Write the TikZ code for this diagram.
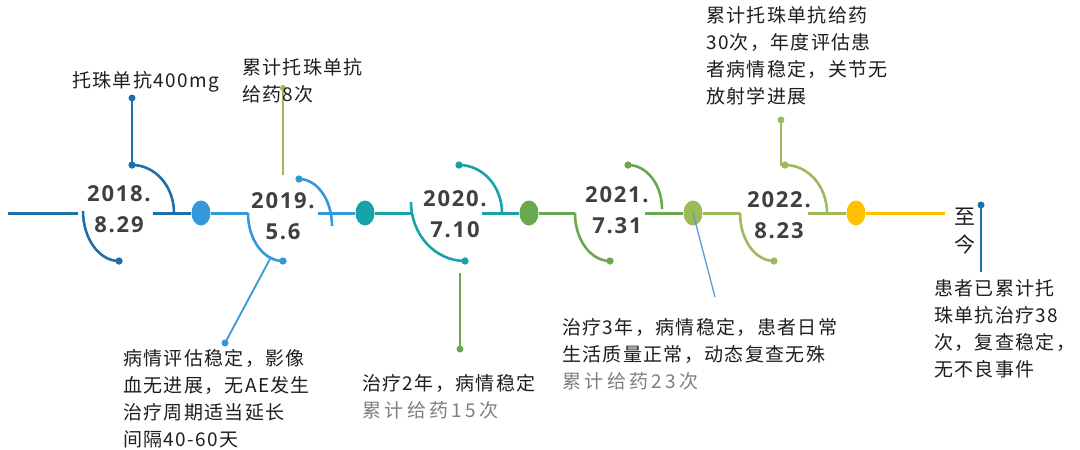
\documentclass[tikz,border=0pt]{standalone}
\usepackage{fontspec}
\setmainfont{Noto Sans CJK SC}
\newfontfamily\cjk[LetterSpace=7]{Noto Sans CJK SC}
\newfontfamily\cjkwide[LetterSpace=18]{Noto Sans CJK SC}
\newfontfamily\datefont[LetterSpace=8]{Open Sans}
\usetikzlibrary{shapes.geometric}
\definecolor{cA}{HTML}{1F6FAA}
\definecolor{cB}{HTML}{3498DB}
\definecolor{cC}{HTML}{17A2A8}
\definecolor{cD}{HTML}{6AA84F}
\definecolor{cE}{HTML}{9BBB59}
\definecolor{cF}{HTML}{FFC000}
\definecolor{lnk}{HTML}{5B9BD5}
\definecolor{txt}{HTML}{1E1E1E}
\definecolor{dtxt}{HTML}{404040}
\definecolor{gtxt}{HTML}{7F7F7F}
\tikzset{
  mainln/.style={line width=3pt},
  arcln/.style={line width=2.6pt},
  conn/.style={line width=1.8pt},
  dot/.style={circle, inner sep=0pt, minimum size=7pt},
  stagecirc/.style={ellipse, inner sep=0pt, minimum width=19pt, minimum height=25pt},
  datelbl/.style={font=\datefont\bfseries\fontsize{22}{31}\selectfont, text=dtxt, align=center, inner sep=0pt},
  body/.style={font=\cjk\fontsize{19}{27}\selectfont, text=txt, align=left, anchor=north west, inner sep=0pt}
}
\begin{document}
\begin{tikzpicture}[x=1pt,y=-1pt]
\useasboundingbox (0,0) rectangle (1080,450);
% stage markers (positions)
\coordinate (m0) at (8,213);
\coordinate (m1) at (78,213);
\coordinate (m2) at (153,213);
\coordinate (e1) at (174,213);
\coordinate (s1) at (83,211);
\coordinate (s2) at (248,213);
\coordinate (m3) at (318,213);
\coordinate (e2) at (332,226);
\coordinate (s3) at (411,202);
\coordinate (m4) at (482,213);
\coordinate (e3) at (502,213);
\coordinate (s4) at (575,213);
\coordinate (m5) at (645,213);
\coordinate (e4) at (662,209);
\coordinate (s5) at (740,213);
\coordinate (m6) at (808,213);
\coordinate (e5) at (827,213);
\coordinate (m7) at (945,213);
% dots
\node[dot, fill=cA] (d1t) at (132,98) {};
\node[dot, fill=cA] (d1a) at (132,165) {};
\node[dot, fill=cA] (d1b) at (119,261) {};
\node[dot, fill=cE, minimum size=6pt] (d2t) at (283,88) {};
\node[dot, fill=cB] (d2a) at (299,179) {};
\node[dot, fill=cB] (d2b) at (283,261) {};
\node[dot, fill=cB] (d2c) at (225,343) {};
\node[dot, fill=cC] (d3a) at (459,165) {};
\node[dot, fill=cC] (d3b) at (465,261) {};
\node[dot, fill=cD] (d3c) at (460,349) {};
\node[dot, fill=cD] (d4a) at (628,165) {};
\node[dot, fill=cD] (d4b) at (610,261) {};
\node[dot, fill=cE] (d5t) at (781,120) {};
\node[dot, fill=cE] (d5a) at (785,165) {};
\node[dot, fill=cE] (d5b) at (774,261) {};
\node[dot, fill=cA] (d6) at (981,205) {};
% circles
\node[stagecirc, fill=cB] (c1) at (201,213) {};
\node[stagecirc, fill=cC] (c2) at (365,213) {};
\node[stagecirc, fill=cD] (c3) at (529,213) {};
\node[stagecirc, fill=cE] (c4) at (693,213) {};
\node[stagecirc, fill=cF] (c5) at (856,213) {};
% main line segments
\draw[mainln, cA] (m0) -- (m1);
\draw[mainln, cA] (m2) -- (c1.west);
\draw[mainln, cB] (c1.east) -- (s2);
\draw[mainln, cB] (m3) -- (c2.west);
\draw[mainln, cC] (c2.east) -- (s3 |- c2);
\draw[mainln, cC] (m4) -- (c3.west);
\draw[mainln, cD] (c3.east) -- (s4);
\draw[mainln, cD] (m5) -- (c4.west);
\draw[mainln, cE] (c4.east) -- (s5);
\draw[mainln, cE] (m6) -- (c5.west);
\draw[mainln, cF] (c5.east) -- (m7);
% arcs
\draw[arcln, cA] (d1a.center) .. controls (155.2,165) and (174,186.3) .. (e1);
\draw[arcln, cA] (s1) .. controls (83,238.5) and (99.1,261) .. (d1b.center);
\draw[arcln, cB] (s2) .. controls (248,239.8) and (263.7,261) .. (d2b.center);
\draw[arcln, cB] (d2a.center) .. controls (317.2,179) and (332,200) .. (e2);
\draw[arcln, cC] (s3) .. controls (411,234.6) and (435.2,261) .. (d3b.center);
\draw[arcln, cC] (d3a.center) .. controls (482.7,165) and (502,186.3) .. (e3);
\draw[arcln, cD] (s4) .. controls (575,239.8) and (590.7,261) .. (d4b.center);
\draw[arcln, cD] (d4a.center) .. controls (646.8,165) and (662,184.7) .. (e4);
\draw[arcln, cE] (s5) .. controls (740,239.8) and (755.2,261) .. (d5b.center);
\draw[arcln, cE] (d5a.center) .. controls (808.2,165) and (827,186.3) .. (e5);
% redraw dots on top
\foreach \d/\c in {d1a/cA,d1b/cA,d2a/cB,d2b/cB,d3a/cC,d3b/cC,d4a/cD,d4b/cD,d5a/cE,d5b/cE}
  \fill[\c] (\d) circle[radius=3.5pt];
% connectors
\coordinate (g2e) at (283,175);
\coordinate (g2s) at (270,259);
\coordinate (g3s) at (460,273);
\coordinate (g4e) at (715,297);
\coordinate (g5e) at (781,166);
\coordinate (g6e) at (981,272);
\draw[conn, cA] (d1t.center) -- (d1a.center);
\draw[conn, cE] (d2t.center) -- (g2e);
\draw[conn, cB] (g2s) -- (d2c.center);
\draw[conn, cD] (g3s) -- (d3c.center);
\draw[line width=1.3pt, lnk] (c4.center) -- (g4e);
\draw[conn, cE] (d5t.center) -- (g5e);
\draw[conn, cA] (d6.center) -- (g6e);
% dates
\node[datelbl] (y1) at (119,209.5) {2018.\\8.29};
\node[datelbl] (y2) at (283,216.5) {2019.\\5.6};
\node[datelbl] (y3) at (455,214.5) {2020.\\7.10};
\node[datelbl] (y4) at (617,210.5) {2021.\\7.31};
\node[datelbl] (y5) at (779,215) {2022.\\8.23};
% texts
\node[body] (t1) at (72,71) {托珠单抗400mg};
\node[body] (t2) at (242,58.5) {累计托珠单抗\\给药8次};
\node[body] (t3) at (706,6.5) {累计托珠单抗给药\\30次，年度评估患\\者病情稳定，关节无\\放射学进展};
\node[body] (t4) at (123,349) {病情评估稳定，影像\\血无进展，无AE发生\\治疗周期适当延长\\间隔40-60天};
\node[body] (t5) at (362,374) {治疗2年，病情稳定\\{\cjkwide\color{gtxt}累计给药15次}};
\node[body] (t6) at (562,318) {治疗3年，病情稳定，患者日常\\生活质量正常，动态复查无殊\\{\cjkwide\color{gtxt}累计给药23次}};
\node[body] (t7) at (934,279) {患者已累计托\\珠单抗治疗38\\次，复查稳定，\\无不良事件};
\node[font=\cjk\fontsize{21}{28}\selectfont, text=txt, align=center, inner sep=0pt] (t8) at (965,231) {至\\今};
\end{tikzpicture}
\end{document}
